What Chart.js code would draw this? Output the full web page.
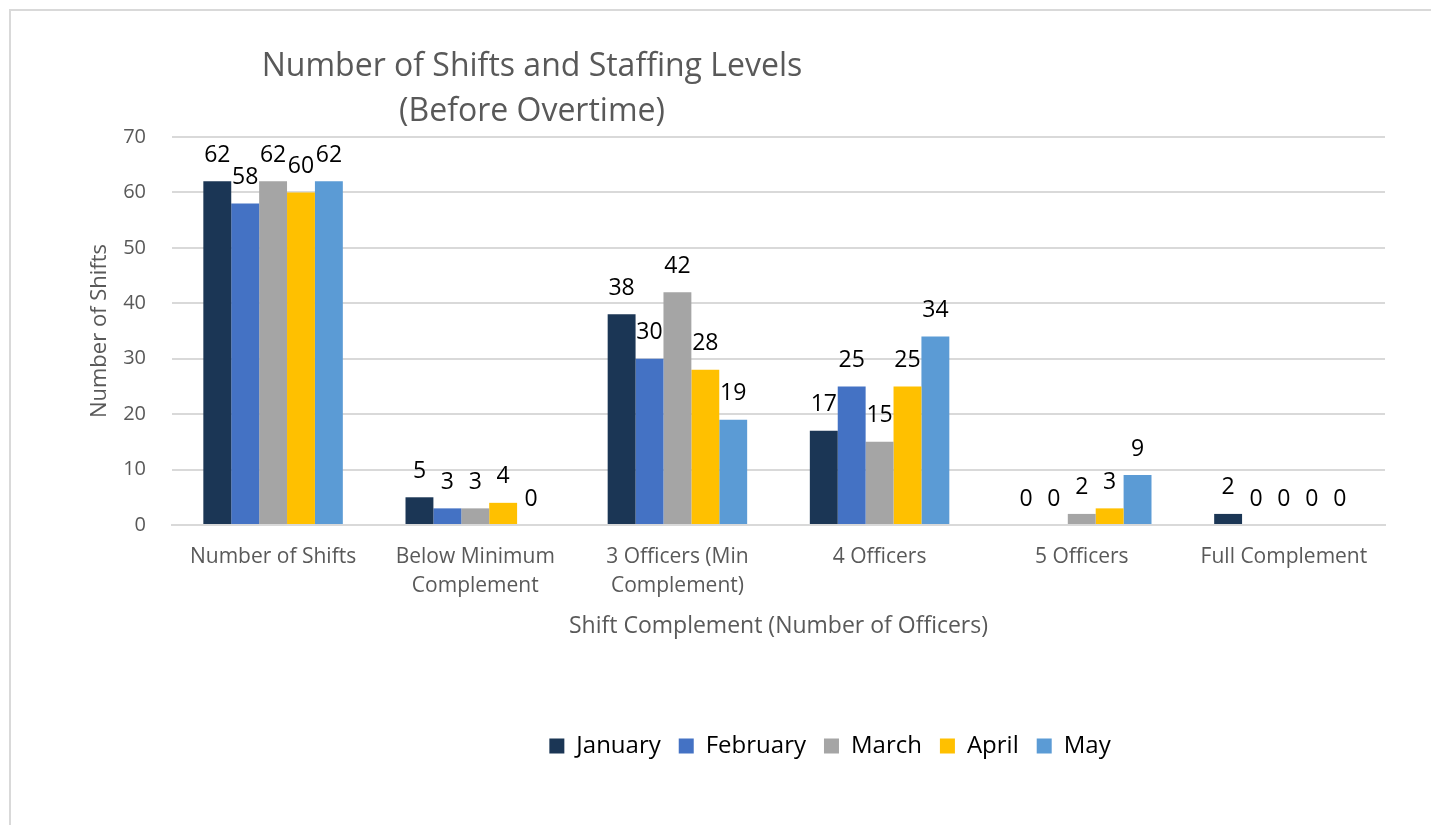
<!DOCTYPE html>
<html>
<head>
<meta charset="utf-8">
<script src="https://cdn.jsdelivr.net/npm/chart.js@4"></script>
<style>
  html, body { margin: 0; background: #fff; overflow: hidden; }
  body { width: 1431px; height: 825px; position: relative; }
  #frameTop { position: absolute; left: 9px; top: 9px; width: 1422px; height: 2px; background: #d9d9d9; }
  #frameLeft { position: absolute; left: 9px; top: 9px; width: 2px; height: 816px; background: #d9d9d9; }
  #wrap { position: absolute; left: 0; top: 0; width: 1431px; height: 825px; }
  #title { position: absolute; left: 232px; top: 41px; width: 600px; text-align: center;
           font-family: "Open Sans", sans-serif; font-size: 32px; line-height: 45px; color: #595959; white-space: nowrap; }
</style>
</head>
<body>
<div id="frameTop"></div>
<div id="frameLeft"></div>
<div id="wrap"><canvas id="chart" width="1431" height="825"></canvas></div>
<div id="title">Number of Shifts and Staffing Levels<br>(Before Overtime)</div>
<script>
const categories = ['Number of Shifts', ['Below Minimum', 'Complement'], ['3 Officers (Min', 'Complement)'], '4 Officers', '5 Officers', 'Full Complement'];
const january = [62, 5, 38, 17, 0, 2];
const february = [58, 3, 30, 25, 0, 0];
const march = [62, 3, 42, 15, 2, 0];
const april = [60, 4, 28, 25, 3, 0];
const may = [62, 0, 19, 34, 9, 0];
const seriesNames = ['January', 'February', 'March', 'April', 'May'];
const seriesColors = ['#1b3655', '#4472c4', '#a5a5a5', '#ffc000', '#5b9bd5'];

const font = '"Open Sans", sans-serif';

// etiquetas de valor encima de cada barra
const valueLabels = {
  id: 'valueLabels',
  afterDatasetsDraw(chart) {
    const ctx = chart.ctx;
    ctx.save();
    ctx.font = '23px ' + font;
    ctx.fillStyle = '#000';
    ctx.textAlign = 'center';
    ctx.textBaseline = 'middle';
    chart.data.datasets.forEach((ds, i) => {
      chart.getDatasetMeta(i).data.forEach((bar, j) => {
        ctx.fillText(ds.data[j], bar.x, bar.y - 26);
      });
    });
    ctx.restore();
  }
};

// mover la leyenda hacia la derecha como en el original
const legendShift = {
  id: 'legendShift',
  afterLayout(chart) {
    const lg = chart.legend;
    const dx = 830 - (lg.left + lg.right) / 2;
    lg.left += dx;
    lg.right += dx;
  }
};

const ctx = document.getElementById('chart').getContext('2d');
new Chart(ctx, {
  type: 'bar',
  data: {
    labels: categories,
    datasets: [january, february, march, april, may].map((d, i) => ({
      label: seriesNames[i],
      data: d,
      backgroundColor: seriesColors[i],
      borderWidth: 0,
      categoryPercentage: 0.69,
      barPercentage: 1.0
    }))
  },
  options: {
    responsive: false,
    animation: false,
    layout: { padding: { left: 80, right: 46, top: 137, bottom: 57 } },
    plugins: {
      title: { display: false },
      tooltip: { enabled: false },
      legend: {
        position: 'bottom',
        labels: { font: { family: font, size: 24 }, color: '#000', boxWidth: 15, boxHeight: 15, padding: 18 }
      }
    },
    scales: {
      x: {
        afterFit(scale) { scale.height = 191; },
        grid: { display: false, drawTicks: false },
        border: { color: '#d9d9d9', width: 2 },
        ticks: { font: { family: font, size: 21, lineHeight: 1.4 }, color: '#595959', padding: 17, maxRotation: 0, autoSkip: false },
        title: { display: true, text: 'Shift Complement (Number of Officers)', font: { family: font, size: 23 }, color: '#595959', padding: { top: 0, bottom: 76 } }
      },
      y: {
        min: 0, max: 70,
        afterFit(scale) { scale.width = 92; },
        ticks: { stepSize: 10, font: { family: font, size: 20 }, color: '#595959', padding: 26 },
        grid: { color: '#d9d9d9', lineWidth: 2, drawTicks: false },
        border: { display: false },
        title: { display: true, text: 'Number of Shifts', font: { family: font, size: 22 }, color: '#595959', padding: { top: 7, bottom: 0 } }
      }
    }
  },
  plugins: [valueLabels, legendShift]
});
</script>
</body>
</html>
